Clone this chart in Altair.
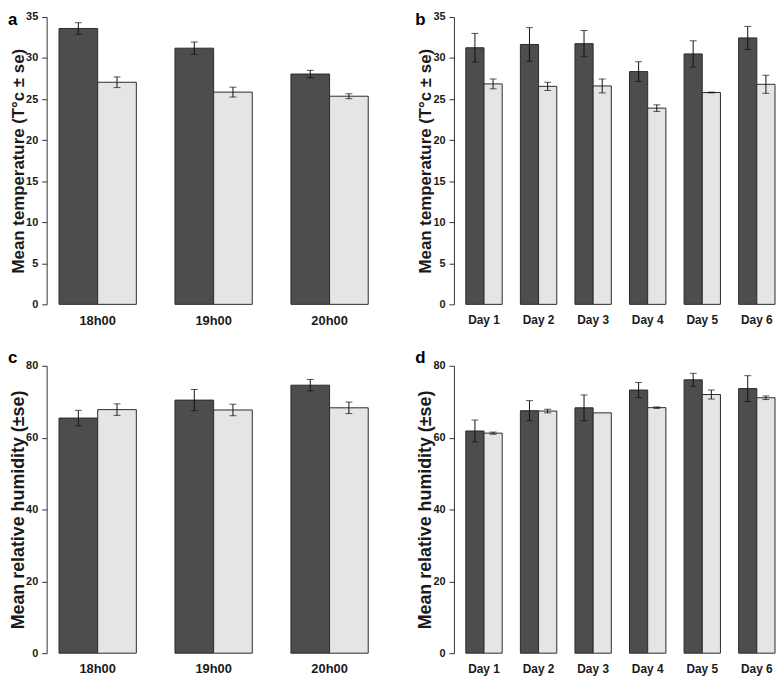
import altair as alt
import pandas as pd

FONT = "Liberation Sans"
DARK = "#4d4d4d"
LIGHT = "#e5e5e5"

hours = ["18h00", "19h00", "20h00"]
days = ["Day 1", "Day 2", "Day 3", "Day 4", "Day 5", "Day 6"]
series = ["dark", "light"]

# panel a: temperature by hour
temp_hour_dark = [33.6, 31.2, 28.05]
temp_hour_dark_se = [0.7, 0.75, 0.45]
temp_hour_light = [27.05, 25.85, 25.35]
temp_hour_light_se = [0.65, 0.6, 0.3]

# panel b: temperature by day
temp_day_dark = [31.25, 31.65, 31.75, 28.35, 30.5, 32.45]
temp_day_dark_se = [1.75, 2.05, 1.6, 1.2, 1.6, 1.4]
temp_day_light = [26.85, 26.55, 26.6, 23.9, 25.8, 26.8]
temp_day_light_se = [0.6, 0.5, 0.85, 0.4, 0.05, 1.1]

# panel c: humidity by hour
hum_hour_dark = [65.45, 70.45, 74.6]
hum_hour_dark_se = [2.15, 2.95, 1.6]
hum_hour_light = [67.8, 67.7, 68.3]
hum_hour_light_se = [1.6, 1.6, 1.6]

# panel d: humidity by day
hum_day_dark = [61.85, 67.5, 68.3, 73.25, 76.1, 73.65]
hum_day_dark_se = [3.05, 2.8, 3.6, 2.1, 1.8, 3.6]
hum_day_light = [61.25, 67.4, 66.9, 68.35, 72.0, 71.1]
hum_day_light_se = [0.3, 0.5, 0.0, 0.2, 1.25, 0.5]

PLOT_H = 290


def make_df(cats, dark, dark_se, light, light_se):
    rows = []
    for c, m, s in zip(cats, dark, dark_se):
        rows.append({"cat": c, "series": "dark", "mean": m, "se": s})
    for c, m, s in zip(cats, light, light_se):
        rows.append({"cat": c, "series": "light", "mean": m, "se": s})
    return pd.DataFrame(rows)


def panel(df, cats, ymax, ystep, ytitle, ytitle_size, letter, width,
          xscale, xlabel_size, letter_y):
    xaxis = alt.Axis(title=None, domain=False, ticks=False, tickSize=0,
                     labelAngle=0, labelPadding=10, labelFontSize=xlabel_size,
                     labelFontWeight="bold", labelFont=FONT,
                     labelColor="#1a1a1a")

    def X():
        return alt.X("cat:N", scale=xscale, sort=cats, axis=xaxis)

    def XO():
        return alt.XOffset("series:N",
                           scale=alt.Scale(domain=series, paddingInner=0,
                                           paddingOuter=0))

    yscale = alt.Scale(domain=[0, ymax], nice=False, zero=True)
    yaxis = alt.Axis(title=ytitle, values=list(range(0, ymax + 1, ystep)),
                     grid=False, domainColor="#333333", tickColor="#333333",
                     tickSize=5, labelPadding=4, labelFontSize=11,
                     labelFontWeight="bold", labelFont=FONT,
                     labelColor="#1a1a1a", titleFont=FONT,
                     titleFontSize=ytitle_size, titleFontWeight="bold",
                     titleColor="#1a1a1a", titlePadding=-2)

    def Y(field):
        return alt.Y(field, scale=yscale, axis=yaxis)

    bars = alt.Chart(df).mark_bar(stroke="#2b2b2b", strokeWidth=1).encode(
        x=X(), xOffset=XO(), y=Y("mean:Q"),
        color=alt.Color("series:N",
                        scale=alt.Scale(domain=series, range=[DARK, LIGHT]),
                        legend=None),
    )
    err = alt.Chart(df[df["se"] > 0]).transform_calculate(
        lo="datum.mean - datum.se", hi="datum.mean + datum.se")
    rule = err.mark_rule(color="#111111", strokeWidth=1).encode(
        x=X(), xOffset=XO(), y=Y("lo:Q"), y2="hi:Q")
    cap_lo = err.mark_tick(color="#111111", thickness=1, size=7).encode(
        x=X(), xOffset=XO(), y=Y("lo:Q"))
    cap_hi = err.mark_tick(color="#111111", thickness=1, size=7).encode(
        x=X(), xOffset=XO(), y=Y("hi:Q"))
    tag = alt.Chart(pd.DataFrame({"t": [letter]})).mark_text(
        font=FONT, fontSize=17, fontWeight="bold", color="#000000",
        align="left", baseline="top",
    ).encode(text="t:N", x=alt.value(-39), y=alt.value(letter_y))
    return alt.layer(bars, rule, cap_lo, cap_hi, tag).properties(
        width=width, height=PLOT_H)


df_a = make_df(hours, temp_hour_dark, temp_hour_dark_se, temp_hour_light, temp_hour_light_se)
df_b = make_df(days, temp_day_dark, temp_day_dark_se, temp_day_light, temp_day_light_se)
df_c = make_df(hours, hum_hour_dark, hum_hour_dark_se, hum_hour_light, hum_hour_light_se)
df_d = make_df(days, hum_day_dark, hum_day_dark_se, hum_day_light, hum_day_light_se)

T_TITLE = "Mean temperature (T°c ± se)"
H_TITLE = "Mean relative humidity (±se)"

W_HOUR = 337
W_DAY = 324


def hour_scale():
    return alt.Scale(domain=hours, paddingInner=1 / 3, paddingOuter=0.1068)


def day_scale():
    return alt.Scale(domain=days, paddingInner=1 / 3, paddingOuter=0,
                     range=[12, W_DAY])


pa = panel(df_a, hours, 35, 5, T_TITLE, 17, "a", W_HOUR, hour_scale(), 13, -5)
pb = panel(df_b, days, 35, 5, T_TITLE, 17, "b", W_DAY, day_scale(), 12, -5)
pc = panel(df_c, hours, 80, 20, H_TITLE, 18, "c", W_HOUR, hour_scale(), 13, -16)
pd_ = panel(df_d, days, 80, 20, H_TITLE, 18, "d", W_DAY, day_scale(), 12, -16)


def indep(ch):
    return ch.resolve_scale(x="independent", xOffset="independent",
                            y="independent", color="independent")


chart = indep(alt.vconcat(
    indep(alt.hconcat(pa, pb, spacing=35)),
    indep(alt.hconcat(pc, pd_, spacing=35)),
    spacing=22,
)).properties(padding={"left": 0, "top": 0, "right": 0, "bottom": 0}).configure_view(stroke=None)

chart.save("out.html", embed_options={"renderer": "svg", "actions": False})
